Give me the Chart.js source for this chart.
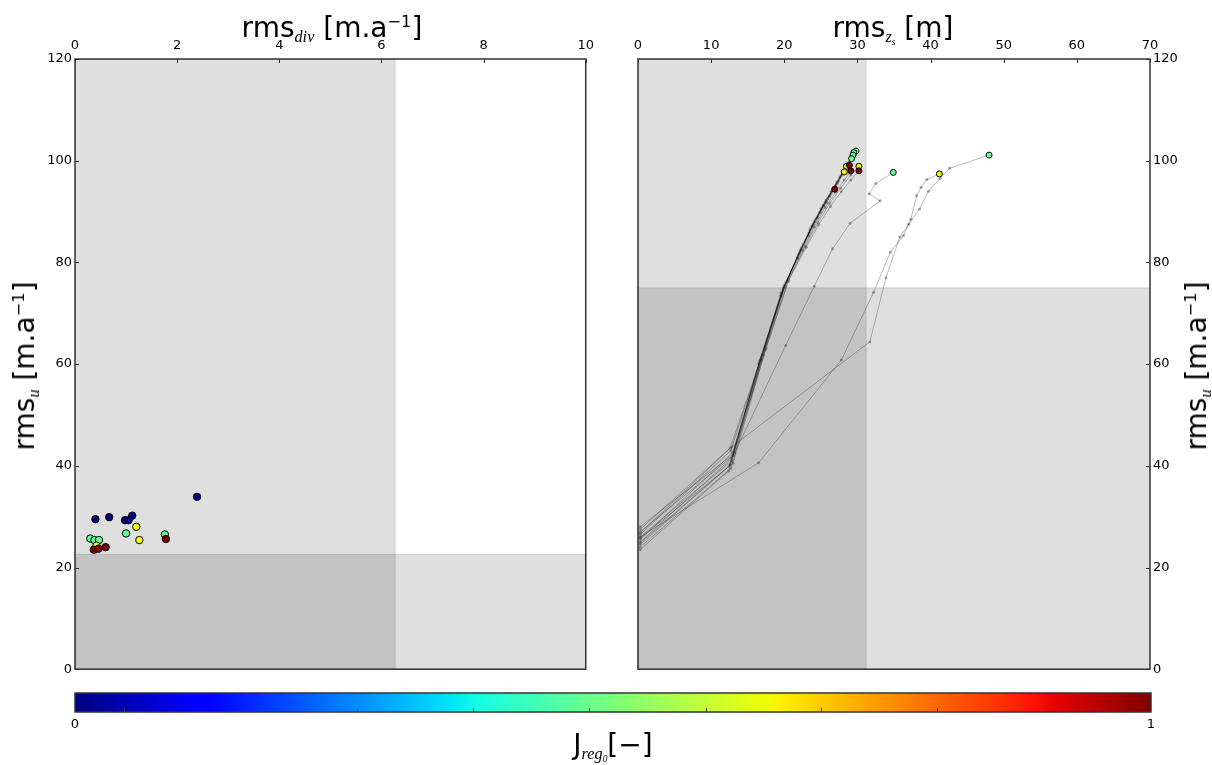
<!DOCTYPE html>
<html>
<head>
<meta charset="utf-8">
<title>rms misfit</title>
<script src="https://cdn.jsdelivr.net/npm/chart.js@4.4.1/dist/chart.umd.min.js"></script>
<style>
  body { margin: 0; background: #fff; font-family: 'DejaVu Sans', sans-serif; }
  #page { position: relative; width: 1212px; height: 765px; overflow: hidden; }
  canvas { position: absolute; }
  .lbl { position: absolute; white-space: nowrap; font-size: 28px; color: #000; line-height: 1; transform: translate(-50%, -50%); }
  .lbl sub, .lbl sup { font-size: 0.58em; line-height: 0; }
  .lbl sub { vertical-align: -0.3em; }
  .lbl i { font-family: 'Liberation Serif', serif; }
  .rot { transform: translate(-50%, -50%) rotate(-90deg); }
</style>
</head>
<body>
<div id="page">
  <canvas id="cDiv" width="600" height="680" style="left:0;top:0"></canvas>
  <canvas id="cZs" width="612" height="680" style="left:600px;top:0"></canvas>
  <canvas id="cBar" width="1212" height="60" style="left:0;top:684px"></canvas>
  <div class="lbl" style="left:332px;top:28px">rms<sub><i>div</i></sub> [m.a<sup>−1</sup>]</div>
  <div class="lbl" style="left:893px;top:28px">rms<sub><i>z<sub>s</sub></i></sub> [m]</div>
  <div class="lbl rot" style="left:25px;top:366px">rms<sub><i>u</i></sub> [m.a<sup>−1</sup>]</div>
  <div class="lbl rot" style="left:1197px;top:366px">rms<sub><i>u</i></sub> [m.a<sup>−1</sup>]</div>
  <div class="lbl" style="left:613px;top:745px">J<sub><i>reg<sub>0</sub></i></sub>[−]</div>
</div>
<script>
// left panel: one point per run (rms_div, rms_u, J_reg0)
const divX = [0.40, 0.67, 0.98, 1.05, 1.12, 2.39, 1.00, 1.76, 0.30, 0.38, 0.47, 1.20, 1.26, 0.42, 1.78, 0.37, 0.46, 0.60];
const divY = [29.5, 29.9, 29.3, 29.3, 30.2, 33.9, 26.7, 26.5, 25.7, 25.4, 25.4, 28.0, 25.4, 24.3, 25.6, 23.5, 23.7, 24.0];
const divJ = [0.0, 0.0, 0.0, 0.0, 0.0, 0.0, 0.47, 0.47, 0.47, 0.47, 0.47, 0.64, 0.64, 0.64, 1.0, 1.0, 1.0, 1.0];

// right panel: iteration paths (rms_zs, rms_u), last point is the final state
const zsPathX = [
  [0.3, 12.9, 17.2, 20.2, 22.6, 24.3, 25.9, 27.4, 28.7, 29.8],
  [0.3, 12.7, 17.0, 20.0, 22.4, 24.1, 25.7, 27.2, 28.5, 29.5],
  [0.3, 12.8, 16.9, 19.9, 22.3, 24.0, 25.6, 27.1, 28.4, 29.4],
  [0.3, 12.6, 16.8, 19.8, 22.1, 23.8, 25.4, 26.9, 28.2, 29.2],
  [0.3, 12.5, 16.6, 19.6, 21.9, 23.5, 25.0, 26.4, 27.6, 28.5],
  [0.3, 12.7, 16.9, 19.9, 22.2, 23.8, 25.3, 26.7, 27.9, 28.9],
  [0.3, 13.0, 17.4, 20.5, 22.9, 24.6, 26.2, 27.7, 29.1, 30.2],
  [0.3, 12.4, 16.5, 19.5, 21.8, 23.4, 24.9, 26.2, 27.3, 28.2],
  [0.3, 12.8, 17.1, 20.1, 22.5, 24.1, 25.6, 27.0, 28.2, 29.1],
  [0.3, 13.0, 17.5, 20.6, 23.0, 24.7, 26.3, 27.8, 29.1, 30.2],
  [0.3, 12.6, 16.7, 19.6, 21.8, 23.3, 24.6, 25.8, 26.9],
  [0.3, 13.2, 20.2, 24.1, 26.6, 29.0, 33.1, 31.6, 32.5, 34.9],
  [0.3, 16.5, 27.8, 32.2, 34.5, 36.3, 37.3, 38.1, 38.7, 39.5, 41.2],
  [0.3, 12.8, 31.7, 33.9, 35.8, 37.0, 38.5, 39.7, 41.3, 42.6, 48.0]
];
const zsPathY = [
  [25.5, 42.5, 62.5, 76.0, 83.5, 88.5, 92.5, 96.0, 99.5, 101.9],
  [26.5, 43.0, 62.0, 75.5, 83.0, 88.0, 92.2, 95.8, 99.2, 101.6],
  [25.0, 41.5, 61.5, 75.0, 82.6, 87.6, 91.8, 95.3, 98.8, 101.1],
  [27.5, 43.5, 61.0, 74.5, 82.0, 87.0, 91.2, 94.8, 98.2, 100.4],
  [24.5, 40.0, 60.5, 74.0, 81.5, 86.5, 90.6, 94.0, 96.8, 98.9],
  [24.0, 39.5, 61.0, 75.0, 82.4, 87.2, 91.2, 94.5, 97.2, 99.1],
  [25.8, 40.5, 62.8, 76.2, 83.2, 87.8, 91.6, 94.6, 97.2, 98.9],
  [23.5, 39.0, 60.0, 73.5, 81.0, 85.8, 89.8, 93.0, 95.6, 97.8],
  [26.0, 41.0, 61.8, 75.3, 82.4, 87.0, 90.8, 93.8, 96.2, 98.0],
  [27.0, 42.0, 63.0, 76.5, 83.0, 87.4, 91.0, 93.9, 96.2, 98.0],
  [24.8, 40.2, 60.8, 74.0, 80.8, 85.2, 88.8, 91.8, 94.4],
  [28.0, 42.5, 63.7, 75.3, 82.7, 87.7, 92.1, 93.5, 95.5, 97.7],
  [26.0, 40.6, 60.8, 74.1, 82.0, 85.3, 88.5, 93.1, 94.8, 96.3, 97.4],
  [26.8, 43.7, 64.4, 77.0, 85.0, 87.5, 90.5, 94.0, 96.5, 98.5, 101.1]
];
const zsJ = [0.47, 0.47, 0.47, 0.47, 0.64, 1.0, 0.64, 0.64, 1.0, 1.0, 1.0, 0.47, 0.64, 0.47];

// acceptance limits [x, y]
const divLimit = [6.27, 22.6];
const zsLimit = [31.2, 75];

// colorbar
const cbTicks = [0, 1];
const cbMarks = [0.046, 0.154, 0.262, 0.370, 0.478, 0.586, 0.693, 0.801, 0.909];

// matplotlib jet
const JET = {
  r: [[0, 0], [0.35, 0], [0.66, 1], [0.89, 1], [1, 0.5]],
  g: [[0, 0], [0.125, 0], [0.375, 1], [0.64, 1], [0.91, 0], [1, 0]],
  b: [[0, 0.5], [0.11, 1], [0.34, 1], [0.65, 0], [1, 0]]
};
function seg(s, t)
{
  for (let i = 1; i < s.length; i++)
  {
    if (t <= s[i][0])
    {
      let f = (t - s[i - 1][0]) / (s[i][0] - s[i - 1][0]);
      return s[i - 1][1] + f * (s[i][1] - s[i - 1][1]);
    }
  }
  return s[s.length - 1][1];
}
function jet(t)
{
  return 'rgb(' + ['r', 'g', 'b'].map((k) => Math.round(255 * seg(JET[k], t))).join(',') + ')';
}

const FONT = {family: "'DejaVu Sans', sans-serif", size: 13};
const EDGE = '#333';

// shaded zones, frame and inward tick marks
const decor = {
  id: 'decor',
  beforeDatasetsDraw(chart, args, o)
  {
    if (!o.limit) return;
    const {ctx, chartArea: a, scales} = chart;
    let xl = scales.x.getPixelForValue(o.limit[0]);
    let yl = scales.y.getPixelForValue(o.limit[1]);
    ctx.save();
    ctx.fillStyle = 'rgba(0,0,0,0.125)';
    ctx.strokeStyle = 'rgba(0,0,0,0.12)';
    ctx.lineWidth = 1;
    ctx.fillRect(a.left, a.top, xl - a.left, a.bottom - a.top);
    ctx.strokeRect(a.left, a.top, xl - a.left, a.bottom - a.top);
    ctx.fillRect(a.left, yl, a.right - a.left, a.bottom - yl);
    ctx.strokeRect(a.left, yl, a.right - a.left, a.bottom - yl);
    ctx.restore();
  },
  afterDraw(chart, args, o)
  {
    const {ctx, chartArea: a, scales} = chart;
    ctx.save();
    ctx.strokeStyle = EDGE;
    ctx.lineWidth = 1;
    ctx.beginPath();
    for (let id of (o.axes || []))
    {
      let s = scales[id];
      let vals = o.marks || s.ticks.map((t) => t.value);
      for (let v of vals)
      {
        let p = Math.round(s.getPixelForValue(v)) + 0.5;
        if (s.position == 'top') { ctx.moveTo(p, a.top); ctx.lineTo(p, a.top + 4); }
        else if (s.position == 'bottom') { ctx.moveTo(p, a.bottom); ctx.lineTo(p, a.bottom - 4); }
        else if (s.position == 'left') { ctx.moveTo(a.left, p); ctx.lineTo(a.left + 4, p); }
        else { ctx.moveTo(a.right, p); ctx.lineTo(a.right - 4, p); }
      }
    }
    ctx.stroke();
    ctx.lineWidth = 1.5;
    ctx.strokeRect(a.left, a.top, a.right - a.left, a.bottom - a.top);
    ctx.restore();
  }
};

function axis(pos, min, max, step, size)
{
  return {
    type: 'linear', position: pos, min: min, max: max,
    grid: {display: false, drawTicks: false}, border: {display: false},
    ticks: {stepSize: step, font: FONT, color: '#000', maxRotation: 0, padding: (pos == 'top') ? 6 : 3},
    afterFit: (sc) => { if (pos == 'top' || pos == 'bottom') sc.height = size; else sc.width = size; }
  };
}

Chart.defaults.animation = false;

new Chart(document.getElementById('cDiv'), {
  type: 'scatter',
  data: {
    datasets: [{
      data: divX.map((x, i) => ({x: x, y: divY[i]})),
      backgroundColor: divJ.map(jet),
      borderColor: '#000',
      borderWidth: 1,
      pointRadius: 3.7
    }]
  },
  options: {
    responsive: false,
    layout: {padding: {left: 0, top: 0, right: 13, bottom: 6}},
    scales: {
      x: axis('top', 0, 10, 2, 59),
      y: axis('left', 0, 120, 20, 75)
    },
    plugins: {legend: {display: false}, tooltip: {enabled: false}, decor: {limit: divLimit, axes: ['x', 'y']}}
  },
  plugins: [decor]
});

let zsSets = [{
  data: zsPathX.map((p, i) => ({x: p[p.length - 1], y: zsPathY[i][p.length - 1]})),
  backgroundColor: zsJ.map(jet),
  borderColor: '#000',
  borderWidth: 1,
  pointRadius: 3,
  order: 0
}];
zsPathX.forEach((p, i) =>
{
  zsSets.push({
    data: p.map((x, k) => ({x: x, y: zsPathY[i][k]})),
    showLine: true,
    borderColor: 'rgba(0,0,0,0.28)',
    borderWidth: 1,
    pointRadius: 1.5,
    pointBackgroundColor: 'rgba(80,80,80,0.5)',
    pointBorderWidth: 0,
    clip: 0,
    order: 1
  });
});

new Chart(document.getElementById('cZs'), {
  type: 'scatter',
  data: {datasets: zsSets},
  options: {
    responsive: false,
    layout: {padding: {left: 38, top: 0, right: 0, bottom: 6}},
    scales: {
      x: axis('top', 0, 70, 10, 59),
      y: axis('right', 0, 120, 20, 62)
    },
    plugins: {legend: {display: false}, tooltip: {enabled: false}, decor: {limit: zsLimit, axes: ['x', 'y']}}
  },
  plugins: [decor]
});

new Chart(document.getElementById('cBar'), {
  type: 'bar',
  data: {
    labels: ['J'],
    datasets: [{
      data: [[0, 1]],
      barPercentage: 1,
      categoryPercentage: 1,
      borderWidth: 0,
      backgroundColor: (c) =>
      {
        const a = c.chart.chartArea;
        if (!a) return null;
        let g = c.chart.ctx.createLinearGradient(a.left, 0, a.right, 0);
        for (let i = 0; i <= 64; i++) g.addColorStop(i / 64, jet(i / 64));
        return g;
      }
    }]
  },
  options: {
    indexAxis: 'y',
    responsive: false,
    layout: {padding: {left: 75, top: 9, right: 61, bottom: 0}},
    scales: {
      x: {
        type: 'linear', min: 0, max: 1,
        grid: {display: false, drawTicks: false}, border: {display: false},
        ticks: {font: FONT, color: '#000', padding: 5, maxRotation: 0},
        afterBuildTicks: (s) => { s.ticks = cbTicks.map((v) => ({value: v})); },
        afterFit: (s) => { s.height = 32; }
      },
      y: {display: false}
    },
    plugins: {legend: {display: false}, tooltip: {enabled: false}, decor: {axes: ['x'], marks: cbMarks}}
  },
  plugins: [decor]
});
</script>
</body>
</html>
